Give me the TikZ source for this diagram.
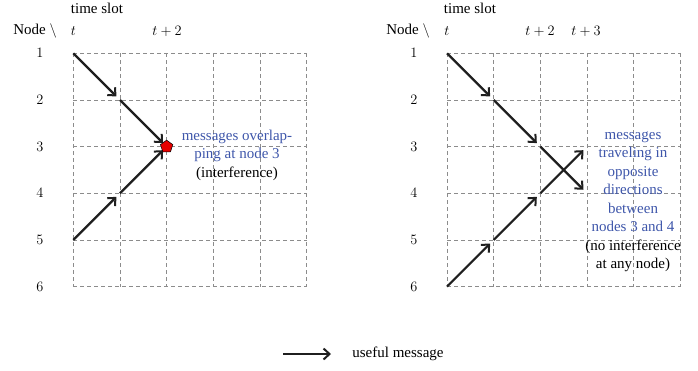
\documentclass[tikz,border=0pt]{standalone}
\usepackage{fontspec}
\setmainfont{Liberation Serif}
\usetikzlibrary{arrows.meta,shapes.geometric}
\definecolor{msgblue}{RGB}{62,86,170}
\begin{document}
\begin{tikzpicture}[x=1bp,y=-1bp,
  font=\fontsize{15bp}{18.5bp}\selectfont,
  gridline/.style={draw=black!45, dash pattern=on 4bp off 3bp, line width=0.8bp},
  msg/.style={draw=black!88, line width=2.2bp,
    -{Straight Barb[length=6bp,width=11bp,line width=2bp]}, shorten >=5bp},
  lbl/.style={inner sep=0pt, anchor=center},
  note/.style={align=center, inner sep=0pt},
  clash/.style={regular polygon, regular polygon sides=5, fill=red!90!black,
    draw=black, line width=0.5bp, minimum size=13bp, inner sep=0pt}]
\useasboundingbox (0,0) rectangle (698,370);

% two time/node grids: columns every 46.67 units, rows 1..6
\foreach \side/\ox in {L/73.3, R/447} {
  \foreach \r in {1,...,6} {
    \foreach \c in {0,...,5} {
      \coordinate (\side\r\c) at ({\ox+46.67*\c},{53.3+46.67*(\r-1)});
    }
  }
  \foreach \r in {1,...,6} \draw[gridline] (\side\r0) -- (\side\r5);
  \foreach \c in {0,...,5} \draw[gridline] (\side1\c) -- (\side6\c);
}

% axis headings, left panel
\node[lbl] (Lts) at (97,8) {time slot};
\node[lbl] (Lnode) at (35,31) {Node $\backslash$};
\node[lbl] (Lt0) at (73.3,31) {$t$};
\node[lbl] (Lt2) at (167,31) {$t+2$};
\foreach \r in {1,...,6}
  \node[lbl] (Lrow\r) at (40,{53.3+46.67*(\r-1)}) {$\r$};

% axis headings, right panel
\node[lbl] (Rts) at (470,8) {time slot};
\node[lbl] (Rnode) at (408,31) {Node $\backslash$};
\node[lbl] (Rt0) at (447,31) {$t$};
\node[lbl] (Rt2) at (540,31) {$t+2$};
\node[lbl] (Rt3) at (586,31) {$t+3$};
\foreach \r in {1,...,6}
  \node[lbl] (Rrow\r) at (414,{53.3+46.67*(\r-1)}) {$\r$};

% left panel: two messages meet at node 3
\draw[msg] (L10) -- (L21);
\draw[msg] (L21) -- (L32);
\draw[msg] (L50) -- (L41);
\draw[msg] (L41) -- (L32);
\node[clash] (hit) at (L32) {};
\node[note] (Lnote) at (237,155)
  {\textcolor{msgblue}{messages overlap-}\\
   \textcolor{msgblue}{ping at node 3}\\
   (interference)};

% right panel: messages cross between nodes 3 and 4
\draw[msg] (R10) -- (R21);
\draw[msg] (R21) -- (R32);
\draw[msg] (R32) -- (R43);
\draw[msg] (R60) -- (R51);
\draw[msg] (R51) -- (R42);
\draw[msg] (R42) -- (R33);
\node[note] (Rnote) at (633,202)
  {\textcolor{msgblue}{messages}\\
   \textcolor{msgblue}{traveling in}\\
   \textcolor{msgblue}{opposite}\\
   \textcolor{msgblue}{directions}\\
   \textcolor{msgblue}{between}\\
   \textcolor{msgblue}{nodes 3 and 4}\\
   (no interference\\
   at any node)};

% legend
\coordinate (legA) at (283,354);
\coordinate (legB) at (331,354);
\draw[msg, shorten >=0pt] (legA) -- (legB);
\node[lbl] (legtext) at (398,354) {useful message};
\end{tikzpicture}
\end{document}
